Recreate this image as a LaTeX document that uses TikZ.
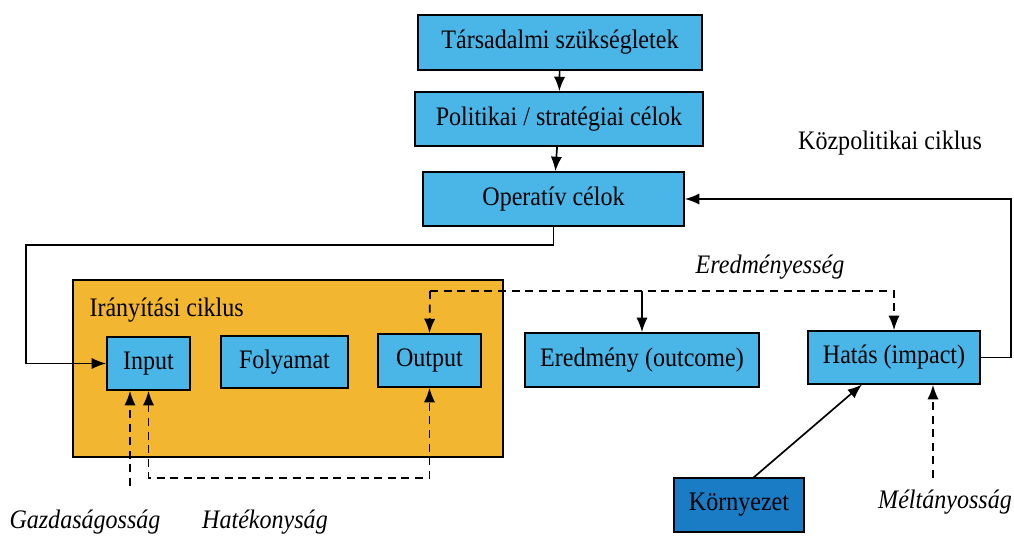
\documentclass[tikz,border=0pt]{standalone}
\usepackage{fontspec}
\setmainfont{Liberation Serif}[FakeStretch=0.9]
\usetikzlibrary{arrows.meta}
\definecolor{kekdoboz}{HTML}{4AB6E8}
\definecolor{sotetkek}{HTML}{1B7CC6}
\definecolor{narancs}{HTML}{F2B630}
\tikzset{
  doboz/.style={draw,fill=kekdoboz,inner sep=0pt,
    font=\fontsize{19}{22}\selectfont},
  felirat/.style={font=\fontsize{19}{22}\selectfont\itshape},
  szagg/.style={dashed,dash pattern=on 0.2cm off 0.14cm}
}
\begin{document}
\begin{tikzpicture}[x=0.025cm,y=-0.025cm,>={Latex[length=3.6mm,width=2.8mm]},line width=1.2pt]
\useasboundingbox (0,0) rectangle (1014,539);

% iranyitasi ciklus hattere
\draw[fill=narancs] (73,280) rectangle (503,457);
\node[anchor=west,font=\fontsize{19}{22}\selectfont] (iranyitas) at (84,310){Irányítási ciklus};

% dobozok
\node[doboz,minimum width=7.1cm,minimum height=1.375cm] (tars) at (560,42.5){Társadalmi szükségletek};
\node[doboz,minimum width=7.2cm,minimum height=1.35cm] (pol) at (559,119){Politikai / stratégiai célok};
\node[doboz,minimum width=6.525cm,minimum height=1.35cm] (oper) at (553.5,199){Operatív célok};

\node[doboz,minimum width=2.075cm,minimum height=1.325cm] (input) at (148.5,363.5){Input};
\node[doboz,minimum width=3.175cm,minimum height=1.3cm] (folyamat) at (284.5,362){Folyamat};
\node[doboz,minimum width=2.575cm,minimum height=1.325cm] (output) at (429.5,360.5){Output};

\node[doboz,minimum width=5.85cm,minimum height=1.35cm] (eredmeny) at (642,360){Eredmény (outcome)};
\node[doboz,minimum width=4.3cm,minimum height=1.325cm] (hatas) at (894,357.5){Hatás (impact)};
\node[doboz,fill=sotetkek,minimum width=3.25cm,minimum height=1.35cm] (kornyezet) at (739,505){Környezet};

% feliratok
\node[font=\fontsize{19}{22}\selectfont] (kozpol) at (890,143){Közpolitikai ciklus};
\node[felirat] (eredmenyesseg) at (770,267){Eredményesség};
\node[felirat] (gazd) at (85,522){Gazdaságosság};
\node[felirat] (hatek) at (265,522){Hatékonyság};
\node[felirat] (meltany) at (945,502){Méltányosság};

% nyilak felul
\draw[->] (tars) -- (pol);
\draw[->] (pol) -- (oper);

\coordinate (k1) at (26,245);
\draw[->] (oper.south) |- (k1) |- (input.west);

\coordinate (k2) at (1011,199);
\draw[->] (hatas.east) -| (k2) -- (oper.east);

% szaggatott vonalak
\coordinate (d1) at (430,291);
\draw[szagg,->] (d1) -- (output.north);
\draw[szagg,->] (d1) -| (hatas.north);
\draw[->] (eredmeny.north |- d1) -- (eredmeny.north);

\coordinate (h1) at (290,478);
\draw[szagg,<->] (input.south) |- (h1) -| (output.south);

\coordinate (g1) at (130,486);
\draw[szagg,->] (g1) -- (g1 |- input.south);

\coordinate (m1) at (933,478);
\draw[szagg,->] (m1) -- (m1 |- hatas.south);

\coordinate (k3) at (753,478);
\coordinate (k4) at (862,384.5);
\draw[->] (k3) -- (k4);

\end{tikzpicture}
\end{document}
